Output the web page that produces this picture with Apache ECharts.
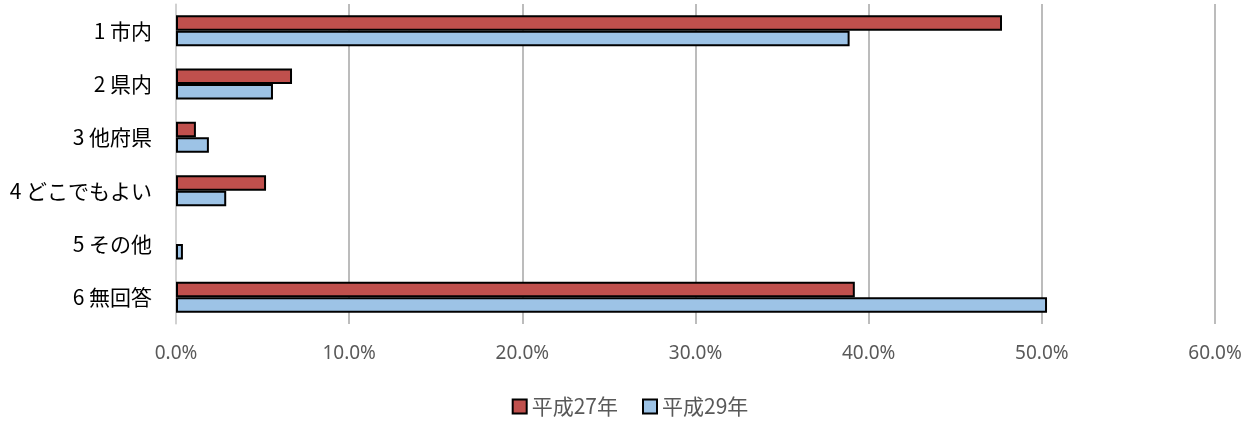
<!DOCTYPE html>
<html><head><meta charset="utf-8">
<script src="https://cdn.jsdelivr.net/npm/echarts@6/dist/echarts.min.js"></script>
<style>html,body{margin:0;padding:0;background:#fff}#c{width:1260px;height:424px}</style>
</head><body><div id="c"></div>
<script>
const categories = ['1 市内','2 県内','3 他府県','4 どこでもよい','5 その他','6 無回答'];
const seriesNames = ['平成27年','平成29年'];
const h27 = [47.7, 6.7, 1.15, 5.2, 0, 39.2];
const h29 = [38.9, 5.6, 1.9, 2.9, 0.4, 50.3];
const xTicks = [0,10,20,30,40,50,60];

const hideZero = arr => arr.map(v => v === 0 ? '-' : v);

const chart = echarts.init(document.getElementById('c'));
chart.setOption({
  animation:false,
  grid:{left:176,right:45,top:4,bottom:100,containLabel:false},
  legend:{bottom:2,left:'center',itemWidth:14,itemHeight:14,itemGap:24,icon:'rect',
    textStyle:{fontFamily:'Noto Sans CJK JP',fontSize:21,color:'#595959'},
    data:seriesNames},
  xAxis:{type:'value',min:xTicks[0],max:xTicks[xTicks.length-1],interval:10,
    axisLine:{show:false},axisTick:{show:false},
    splitLine:{lineStyle:{color:'#A6A6A6',width:1.5}},
    axisLabel:{margin:20,fontFamily:'Noto Sans',fontSize:19,color:'#595959',
      formatter:v=>v.toFixed(1)+'%'}},
  yAxis:{type:'category',data:categories,inverse:true,
    axisLine:{lineStyle:{color:'#D9D9D9',width:1.5}},axisTick:{show:false},
    axisLabel:{margin:24,fontFamily:'Noto Sans CJK JP',fontSize:21,color:'#000'}},
  series:[
    {name:seriesNames[0],type:'bar',data:hideZero(h27),barGap:'0%',barCategoryGap:'42%',
     itemStyle:{color:'#C0504D',borderColor:'#000',borderWidth:2}},
    {name:seriesNames[1],type:'bar',data:hideZero(h29),barGap:'0%',barCategoryGap:'42%',
     itemStyle:{color:'#9DC3E6',borderColor:'#000',borderWidth:2}}
  ]
});
</script></body></html>
